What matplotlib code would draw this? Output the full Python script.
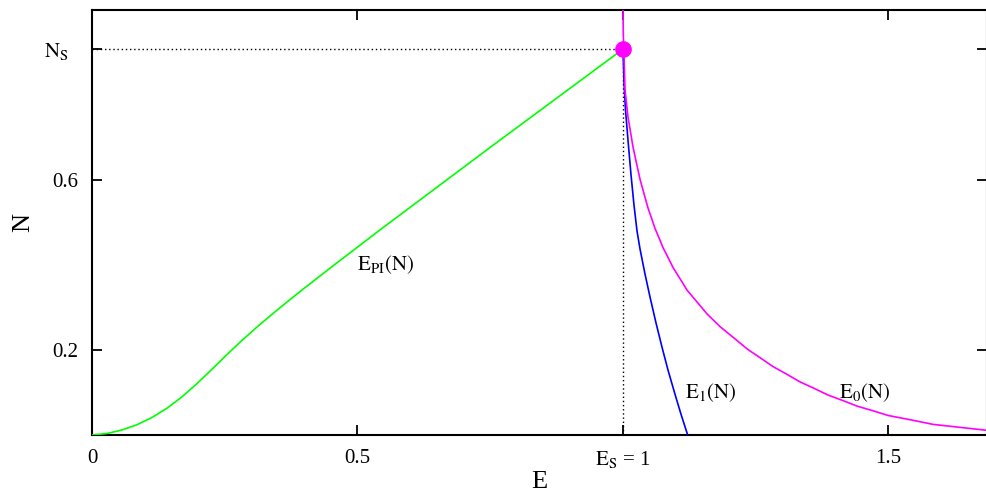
import matplotlib
matplotlib.use("Agg")
import matplotlib.pyplot as plt
import matplotlib.transforms as mtransforms

plt.rcParams['font.family'] = ['Liberation Serif', 'DejaVu Serif']
plt.rcParams['mathtext.fontset'] = 'stix'

# Data (E, N)
epi_E = [0.0, 0.0282, 0.0565, 0.0847, 0.1130, 0.1412, 0.1695, 0.1977, 0.2260, 0.2542,
         0.2825, 0.3107, 0.3390, 0.3672, 0.3955, 0.4520, 0.5424, 0.7533, 1.0]
epi_N = [0.0, 0.0035, 0.0118, 0.0242, 0.0412, 0.0631, 0.0899, 0.1209, 0.1548, 0.1894,
         0.2226, 0.2541, 0.2840, 0.3129, 0.3412, 0.3962, 0.4826, 0.680, 0.908]

e1_E = [1.0, 1.0019, 1.0047, 1.0094, 1.0151, 1.0207, 1.0264, 1.0320, 1.0414, 1.0508,
        1.0621, 1.0734, 1.0847, 1.0979, 1.1092, 1.1218]
e1_N = [0.908, 0.828, 0.765, 0.694, 0.612, 0.541, 0.480, 0.438, 0.379, 0.325,
        0.264, 0.207, 0.153, 0.096, 0.049, 0.0]

e0_E = [1.0, 1.0006, 1.0015, 1.0038, 1.0066, 1.0094, 1.0132, 1.0188, 1.0245, 1.0320,
        1.0395, 1.0471, 1.0527, 1.0603, 1.0678, 1.0753, 1.0847, 1.0942, 1.1073,
        1.1205, 1.1394, 1.1582, 1.1827, 1.2072, 1.2354, 1.2580, 1.2825, 1.3070,
        1.3333, 1.3578, 1.3861, 1.4143, 1.4407, 1.4708, 1.4991, 1.5405, 1.5838,
        1.6347, 1.6855]
e0_N = [1.0, 0.941, 0.908, 0.812, 0.780, 0.748, 0.720, 0.678, 0.645, 0.602,
        0.568, 0.534, 0.514, 0.486, 0.464, 0.441, 0.418, 0.394, 0.368,
        0.341, 0.313, 0.285, 0.255, 0.230, 0.201, 0.182, 0.161, 0.144,
        0.125, 0.111, 0.094, 0.081, 0.068, 0.057, 0.046, 0.036, 0.025,
        0.018, 0.011]

E_S = 1.0
N_S = 0.908

x_ticks = [0, 0.5, E_S, 1.5]
x_ticklabels = ['0', '0.5', r'$\mathrm{E_S}$ = 1', '1.5']
y_ticks = [0.2, 0.6, N_S]
y_ticklabels = ['0.2', '0.6', r'$\mathrm{N_S}$']

fig = plt.figure(figsize=(9.87, 4.94), dpi=100)
ax = fig.add_axes([92/987, 59/494, 895/987, 425/494])

ax.plot(epi_E, epi_N, color='#00ff00', lw=1.2, zorder=3)
ax.plot(e1_E, e1_N, color='#0000ff', lw=1.2, zorder=3)
ax.plot(e0_E, e0_N, color='#ff00ff', lw=1.2, zorder=3)

ax.plot([0, E_S], [N_S, N_S], color='black', lw=1.0, ls=(0, (1, 2)), zorder=2)
ax.plot([E_S, E_S], [0, N_S], color='black', lw=1.0, ls=(0, (1, 2)), zorder=2)
ax.plot([E_S], [N_S], 'o', color='#ff00ff', ms=11, zorder=4)

ax.set_xlim(0, 895/531)
ax.set_ylim(0, 1.0)
ax.set_xticks(x_ticks)
ax.set_xticklabels(x_ticklabels)
ax.set_yticks(y_ticks)
ax.set_yticklabels(y_ticklabels)
ax.tick_params(direction='in', length=7, width=1.3, top=True, right=True,
               labelsize=15, pad=10)
for s in ax.spines.values():
    s.set_linewidth(1.5)

# shift the N_S tick label a little left, as in the reference
lbl = ax.get_yticklabels()[2]
lbl.set_transform(lbl.get_transform() + mtransforms.ScaledTranslation(-10/100, 0, fig.dpi_scale_trans))

ax.set_xlabel('E', fontsize=19, labelpad=1)
ax.set_ylabel('N', fontsize=19, labelpad=7)

ax.text(0.552, 0.4, r'$\mathrm{E_{PI}(N)}$', fontsize=15, ha='center', va='center')
ax.text(1.166, 0.099, r'$\mathrm{E_1(N)}$', fontsize=15, ha='center', va='center')
ax.text(1.456, 0.099, r'$\mathrm{E_0(N)}$', fontsize=15, ha='center', va='center')

fig.savefig('out.png', dpi=100)
